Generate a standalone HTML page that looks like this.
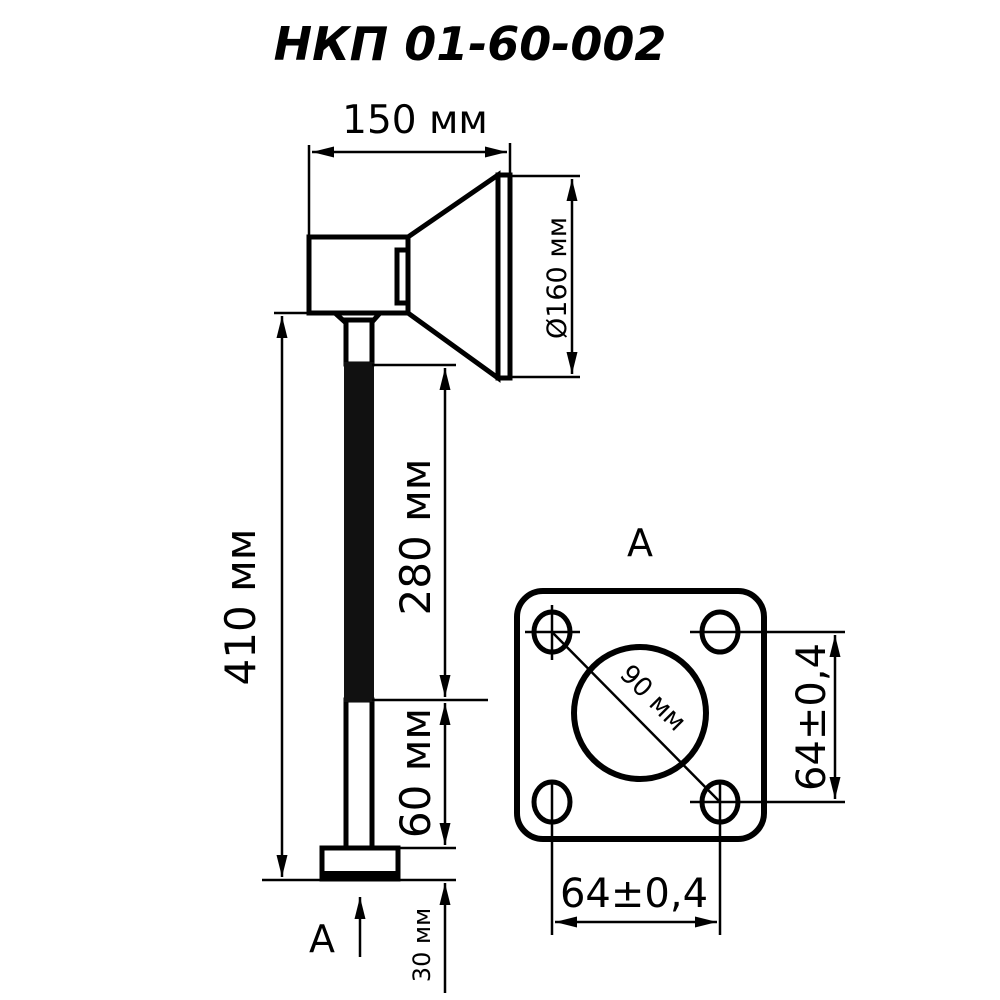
<!DOCTYPE html>
<html><head><meta charset="utf-8"><style>
html,body{margin:0;padding:0;background:#fff;width:1000px;height:1000px;overflow:hidden}
svg{display:block}
text{font-family:"DejaVu Sans","Liberation Sans",sans-serif;fill:#000}
</style></head><body>
<svg width="1000" height="1000" viewBox="0 0 1000 1000" xmlns="http://www.w3.org/2000/svg">
<defs>
<marker id="a" viewBox="0 0 20 10" refX="20" refY="5" markerWidth="22" markerHeight="12" markerUnits="userSpaceOnUse" orient="auto-start-reverse"><path d="M0,0 L20,5 L0,10 z" fill="#000"/></marker>
</defs>
<text x="470" y="60" font-size="46" font-style="italic" font-weight="bold" text-anchor="middle" font-family="Liberation Sans">НКП 01-60-002</text>

<text x="415" y="133" font-size="39" text-anchor="middle">150 мм</text>
<g stroke="#000" stroke-width="2.5" fill="none">
<line x1="309" y1="145" x2="309" y2="236"/>
<line x1="510" y1="143" x2="510" y2="176"/>
<line x1="312" y1="152" x2="507" y2="152" marker-start="url(#a)" marker-end="url(#a)"/>
<line x1="510" y1="176" x2="580" y2="176"/>
<line x1="510" y1="377" x2="580" y2="377"/>
<line x1="572" y1="179" x2="572" y2="374" marker-start="url(#a)" marker-end="url(#a)"/>
</g>
<text transform="translate(566,278) rotate(-90)" font-size="27" text-anchor="middle">Ø160 мм</text>

<g stroke="#000" stroke-width="5" fill="#fff">
<rect x="309" y="237" width="99" height="76"/>
<path d="M408,237 L498,175 L498,378 L408,313 z"/>
<rect x="498" y="175" width="12" height="203"/>
<rect x="397" y="250" width="11" height="53"/>
<path d="M335,313 L380,313 L372,322 L345,322 z"/>
<rect x="346" y="320" width="26" height="44"/>
<rect x="346" y="700" width="26" height="148"/>
<rect x="322" y="848" width="76" height="31"/>
</g>
<rect x="344" y="362" width="30" height="340" fill="#111"/>
<rect x="322" y="871" width="76" height="9" fill="#000"/>

<g stroke="#000" stroke-width="2.5" fill="none">
<line x1="274" y1="313" x2="345" y2="313"/>
<line x1="262" y1="880" x2="456" y2="880"/>
<line x1="282" y1="316" x2="282" y2="877" marker-start="url(#a)" marker-end="url(#a)"/>
<line x1="372" y1="365" x2="456" y2="365"/>
<line x1="372" y1="700" x2="488" y2="700"/>
<line x1="398" y1="848" x2="456" y2="848"/>
<line x1="445" y1="368" x2="445" y2="697" marker-start="url(#a)" marker-end="url(#a)"/>
<line x1="445" y1="703" x2="445" y2="845" marker-start="url(#a)" marker-end="url(#a)"/>
<line x1="445" y1="993" x2="445" y2="883" marker-end="url(#a)"/>
<line x1="360" y1="957" x2="360" y2="897" marker-end="url(#a)"/>
</g>
<text transform="translate(255,607) rotate(-90)" font-size="42" text-anchor="middle">410 мм</text>
<text transform="translate(430,537) rotate(-90)" font-size="42" text-anchor="middle">280 мм</text>
<text transform="translate(430,773) rotate(-90)" font-size="42" text-anchor="middle">60 мм</text>
<text transform="translate(430,945) rotate(-90)" font-size="24" text-anchor="middle">30 мм</text>
<text x="322" y="952" font-size="38" text-anchor="middle">A</text>
<text x="640" y="556" font-size="38" text-anchor="middle">A</text>

<g stroke="#000" fill="none">
<rect x="517" y="591" width="247" height="248" rx="26" stroke-width="6"/>
<ellipse cx="552" cy="632" rx="18" ry="20" stroke-width="5"/>
<ellipse cx="720" cy="632" rx="18" ry="20" stroke-width="5"/>
<ellipse cx="552" cy="802" rx="18" ry="20" stroke-width="5"/>
<ellipse cx="720" cy="802" rx="18" ry="20" stroke-width="5"/>
<circle cx="640" cy="713" r="66" stroke-width="6"/>
<g stroke-width="2.5">
<line x1="525" y1="632" x2="580" y2="632"/>
<line x1="552" y1="605" x2="552" y2="660"/>
<line x1="690" y1="632" x2="845" y2="632"/>
<line x1="690" y1="802" x2="845" y2="802"/>
<line x1="552" y1="782" x2="552" y2="935"/>
<line x1="720" y1="782" x2="720" y2="935"/>
<line x1="552" y1="632" x2="720" y2="802"/>
<line x1="835" y1="635" x2="835" y2="799" marker-start="url(#a)" marker-end="url(#a)"/>
<line x1="555" y1="922" x2="717" y2="922" marker-start="url(#a)" marker-end="url(#a)"/>
</g>
</g>
<text transform="translate(647,704) rotate(45)" font-size="26" text-anchor="middle">90 мм</text>
<text transform="translate(825,717) rotate(-90)" font-size="40" text-anchor="middle">64±0,4</text>
<text x="634" y="907" font-size="40" text-anchor="middle">64±0,4</text>
</svg>
</body></html>
